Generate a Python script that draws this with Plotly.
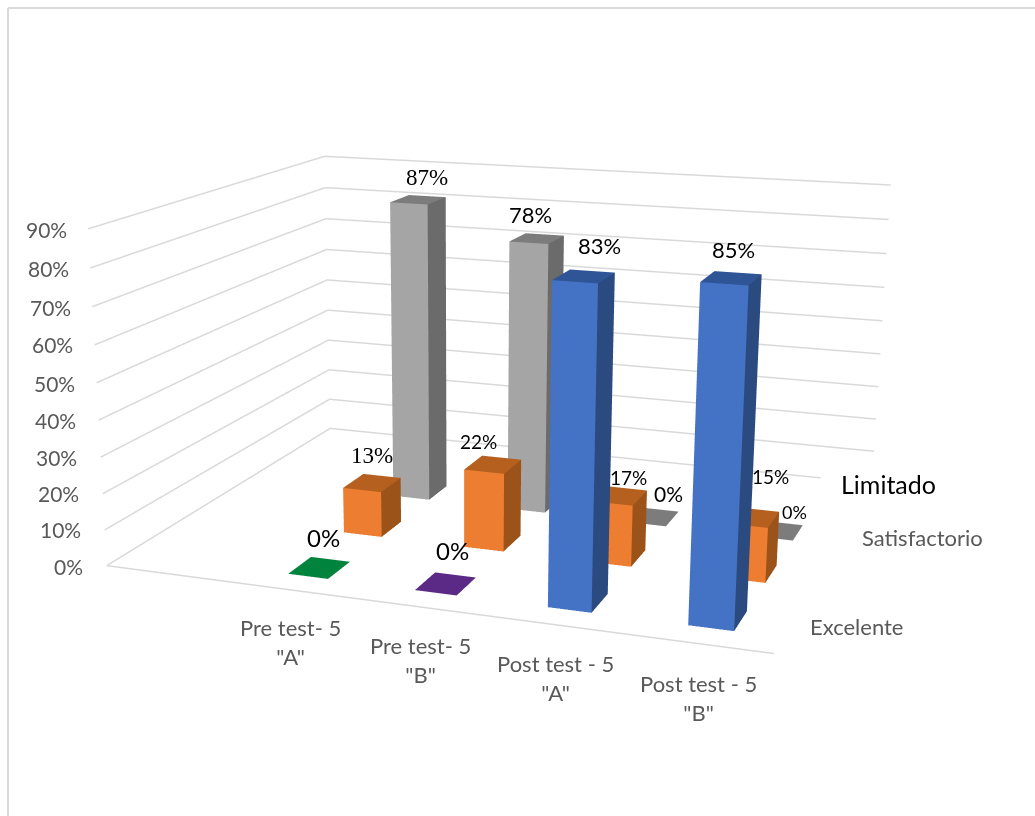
import plotly.graph_objects as go

# Percentage of students per achievement level, pre test and post test, groups A and B
CATEGORIES = ['Pre test- 5<br>"A"', 'Pre test- 5<br>"B"', 'Post test - 5<br>"A"', 'Post test - 5<br>"B"']
SERIES = ["Excelente", "Satisfactorio", "Limitado"]
EXCELENTE = [0, 0, 83, 85]
SATISFACTORIO = [13, 22, 17, 15]
LIMITADO = [87, 78, 0, 0]
TICKS = list(range(0, 100, 10))

# Floor layout of the columns, in axis units
CAT_POS = [1.20, 2.00, 2.80, 3.605]
SERIES_POS = [0.372, 1.122, 1.872]
BAR_W, BAR_D = 0.255, 0.295

# Face colours: front, side, top
BLUE = ("#4472C4", "#2B4A80", "#2F5597")
ORANGE = ("#ED7D31", "#9C5319", "#B5601F")
GRAY = ("#A5A5A5", "#6B6B6B", "#7C7C7C")
GREEN = ("#00843D",) * 3
PURPLE = ("#5B2A86",) * 3
SERIES_COLORS = [[GREEN, PURPLE, BLUE, BLUE], [ORANGE] * 4, [GRAY] * 4]

GRID = "#d9d9d9"
MUTED = "#595959"
SANS = "Lato"
SERIF = "Liberation Serif"

# Canvas: the scene's lens centre is mid-canvas, so the canvas is larger than the page and raised
WIDTH = 1035
CANVAS_H = 1624
LENS_X = 465.4
RAISE = 345

fig = go.Figure()

# Wall gridlines: left wall then back wall at every tick; the floor's back line stops short of the corner
for t in TICKS:
    fig.add_trace(go.Scatter3d(x=[0, 0, 4 if t else 3.65], y=[0, 3, 3], z=[t, t, t], mode="lines",
                               line=dict(color=GRID, width=3), hoverinfo="skip"))
fig.add_trace(go.Scatter3d(x=[0, 4], y=[0, 0], z=[0, 0], mode="lines",
                           line=dict(color=GRID, width=3), hoverinfo="skip"))


def add_column(cx, cy, height, colors):
    """One box: front, right and top faces, each flat-coloured."""
    x0, x1 = cx - BAR_W / 2, cx + BAR_W / 2
    y0, y1 = cy - BAR_D / 2, cy + BAR_D / 2
    front, side, top = colors
    fig.add_trace(go.Mesh3d(
        x=[x0, x1, x1, x0] * 2,
        y=[y0, y0, y1, y1] * 2,
        z=[0] * 4 + [height] * 4,
        i=[0, 0, 1, 1, 4, 4], j=[1, 5, 2, 6, 5, 6], k=[5, 4, 6, 5, 6, 7],
        facecolor=[front, front, side, side, top, top],
        lighting=dict(ambient=1, diffuse=0, specular=0, fresnel=0, roughness=1),
        flatshading=True, hoverinfo="skip"))


ALL_VALUES = [EXCELENTE, SATISFACTORIO, LIMITADO]
for s, values in enumerate(ALL_VALUES):
    for c, value in enumerate(values):
        add_column(CAT_POS[c], SERIES_POS[s], value, SERIES_COLORS[s][c])


def label(x, y, z, text, dx, dy, family, size, color="#000000"):
    return dict(x=x, y=y, z=z, text=text, showarrow=False, xanchor="center", yanchor="middle",
                xshift=dx, yshift=dy, font=dict(family=family, size=size, color=color))


# Value labels: pixel offset, typeface and size per column
VALUE_STYLE = [
    [(4, 30, SANS, 24), (7, 33, SANS, 24), (16, 31, SANS, 22), (2, 29, SANS, 22)],
    [(0, 27, SERIF, 23), (-14, 23, SANS, 19), (9, 18, SANS, 19), (19, 41, SANS, 19)],
    [(9, 22, SERIF, 23), (-6, 24, SANS, 22), (16, 23, SANS, 21), (17, 19, SANS, 18)],
]
annotations = []
for s, values in enumerate(ALL_VALUES):
    for c, value in enumerate(values):
        dx, dy, family, size = VALUE_STYLE[s][c]
        annotations.append(label(CAT_POS[c], SERIES_POS[s], value, f"{value}%", dx, dy, family, size))

# Percent axis labels beside the front-left edge
TICK_DX = [-38, -44, -44, -44, -43, -42, -42, -42, -42, -42]
TICK_DY = [-1, 0, 0, 0, 0, -1, 0, -1, -1, -1]
for t, dx, dy in zip(TICKS, TICK_DX, TICK_DY):
    annotations.append(label(0, 0, t, f"{t}%", dx, dy, SANS, 21, MUTED))

# Category labels below the front edge
CAT_DX = [0, 0, -1, -2]
CAT_DY = [-52, -53, -53, -54]
for pos, text, dx, dy in zip(CAT_POS, CATEGORIES, CAT_DX, CAT_DY):
    annotations.append(label(pos, 0, 0, text, dx, dy, SANS, 22, MUTED))

# Series labels off the right edge of the floor
annotations.append(label(4, SERIES_POS[0], 0, SERIES[0], 68, 1, SANS, 22, MUTED))
annotations.append(label(4, SERIES_POS[1], 0, SERIES[1], 106, 42, SANS, 22, MUTED))
annotations.append(label(4, SERIES_POS[2], 0, SERIES[2], 48, 54, SANS, 25, "#000000"))

frame_top = 1 - (RAISE + 8) / CANVAS_H
fig.update_layout(
    width=WIDTH, height=CANVAS_H, margin=dict(l=0, r=0, t=0, b=0),
    showlegend=False, paper_bgcolor="white",
    scene=dict(
        domain=dict(x=[0, 2 * LENS_X / WIDTH], y=[0, 1]),
        aspectmode="manual", aspectratio=dict(x=1, y=0.8134, z=0.5036),
        camera=dict(eye=dict(x=0.9499, y=-2.7999, z=0.7208),
                    center=dict(x=-0.0434, y=-0.1053, z=-0.1362),
                    up=dict(x=0, y=0, z=1), projection=dict(type="perspective")),
        xaxis=dict(visible=False, range=[0, 4]),
        yaxis=dict(visible=False, range=[0, 3]),
        zaxis=dict(visible=False, range=[0, 90]),
        annotations=annotations),
    shapes=[
        dict(type="line", xref="paper", yref="paper", x0=8 / WIDTH, x1=1, y0=frame_top, y1=frame_top,
             line=dict(color=GRID, width=2)),
        dict(type="line", xref="paper", yref="paper", x0=8 / WIDTH, x1=8 / WIDTH, y0=0, y1=frame_top,
             line=dict(color=GRID, width=2)),
    ])

fig.write_html("out.html", config=dict(displayModeBar=False),
               post_script="document.getElementById('{plot_id}').style.marginTop='-%dpx';" % RAISE)
